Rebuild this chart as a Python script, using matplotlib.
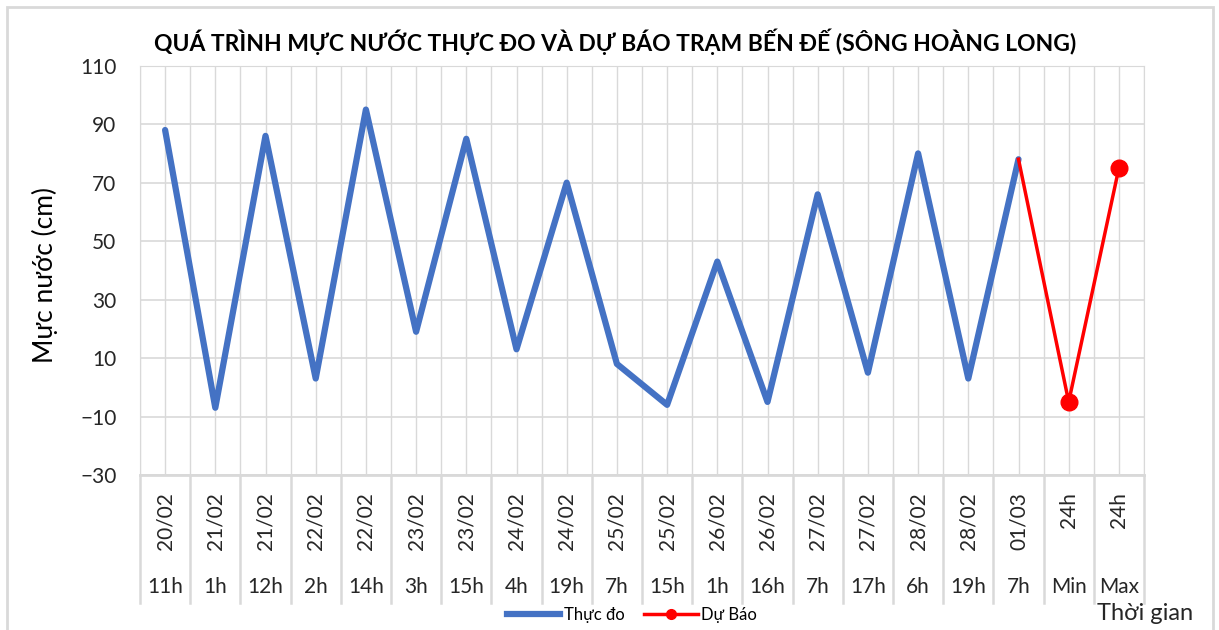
import matplotlib
matplotlib.use('Agg')
import matplotlib.pyplot as plt
from matplotlib.lines import Line2D
from matplotlib.patches import Rectangle
import numpy as np

plt.rcParams['font.family'] = ['Lato', 'DejaVu Sans']

# --- Datos ---
ngay = ['20/02', '21/02', '21/02', '22/02', '22/02', '23/02', '23/02', '24/02',
        '24/02', '25/02', '25/02', '26/02', '26/02', '27/02', '27/02', '28/02',
        '28/02', '01/03', '24h', '24h']
gio = ['11h', '1h', '12h', '2h', '14h', '3h', '15h', '4h', '19h', '7h', '15h',
       '1h', '16h', '7h', '17h', '6h', '19h', '7h', 'Min', 'Max']
thuc_do = [88, -7, 86, 3, 95, 19, 85, 13, 70, 8, -6, 43, -5, 66, 5, 80, 3, 78]
du_bao = [78, -5, 75]   # 01/03 7h, Min, Max

W, H = 1219, 630
fig = plt.figure(figsize=(W / 100, H / 100), dpi=100)

# marco exterior
fig.patches.append(Rectangle((7 / W, -0.01), (1213 - 7) / W, 1 - 7 / H + 0.01,
                             transform=fig.transFigure, fill=False,
                             edgecolor='#d9d9d9', linewidth=2))

x_left, x_right, y_top, y_bot = 140, 1144, 65.7, 475
ax = fig.add_axes([x_left / W, 1 - y_bot / H, (x_right - x_left) / W, (y_bot - y_top) / H])

x = np.arange(len(ngay))
ax.plot(x[:len(thuc_do)], thuc_do, color='#4472C4', linewidth=4.5,
        solid_joinstyle='round', solid_capstyle='round', label='Thực đo', zorder=3)
ax.plot(x[len(thuc_do) - 1:], du_bao, color='#FF0000', linewidth=2.5,
        marker='o', markersize=12, markevery=[1, 2], label='Dự Báo', zorder=4)

ax.set_xlim(-0.5, len(ngay) - 0.5)
ax.set_ylim(-30, 110)
ax.set_yticks(np.arange(-30, 111, 20))
ax.set_xticks(x)
ax.set_xticks(np.arange(-0.5, len(ngay), 1), minor=True)
ax.set_xticklabels([])
ax.grid(which='both', axis='x', color='#d9d9d9', linewidth=1)
ax.grid(which='major', axis='y', color='#d9d9d9', linewidth=1.2)
ax.tick_params(axis='both', which='both', length=0)
ax.tick_params(axis='y', labelsize=15, pad=17, labelcolor='#262626')
for s in ax.spines.values():
    s.set_color('#d9d9d9')
ax.spines['bottom'].set_linewidth(2)

# etiquetas de categoria en dos niveles
alto = y_bot - y_top
trans = ax.get_xaxis_transform()
for b in np.arange(-0.5, len(ngay), 1):
    ax.plot([b, b], [0, -(603 - y_bot) / alto], transform=trans, color='#d9d9d9',
            linewidth=1.8, clip_on=False)
for i in x:
    ax.text(i, -(492 - y_bot) / alto, ngay[i], transform=trans, rotation=90,
            ha='center', va='top', fontsize=15, color='#262626')
    ax.text(i, -(587 - y_bot) / alto, gio[i], transform=trans,
            ha='center', va='center', fontsize=15, color='#262626')

# titulo y ejes
fig.text(615 / W, 1 - 42 / H, 'QUÁ TRÌNH MỰC NƯỚC THỰC ĐO VÀ DỰ BÁO TRẠM BẾN ĐẾ (SÔNG HOÀNG LONG)',
         ha='center', va='center', fontsize=16.5, fontweight='bold', color='black')
fig.text(45 / W, 1 - 275 / H, 'Mực nước (cm)', rotation=90, ha='center', va='center',
         fontsize=19, color='black')
fig.text(1193 / W, 1 - 613 / H, 'Thời gian', ha='right', va='center',
         fontsize=17, color='#262626')

# leyenda
handles = [Line2D([], [], color='#4472C4', linewidth=4.5),
           Line2D([], [], color='#FF0000', linewidth=2.5, marker='o', markersize=7)]
fig.legend(handles, ['Thực đo', 'Dự Báo'], loc='center', ncol=2,
           bbox_to_anchor=(632 / W, 1 - 615 / H), frameon=False, fontsize=12,
           handlelength=3.2, handletextpad=0.2, columnspacing=1.2)

fig.savefig('out.png', dpi=100)
